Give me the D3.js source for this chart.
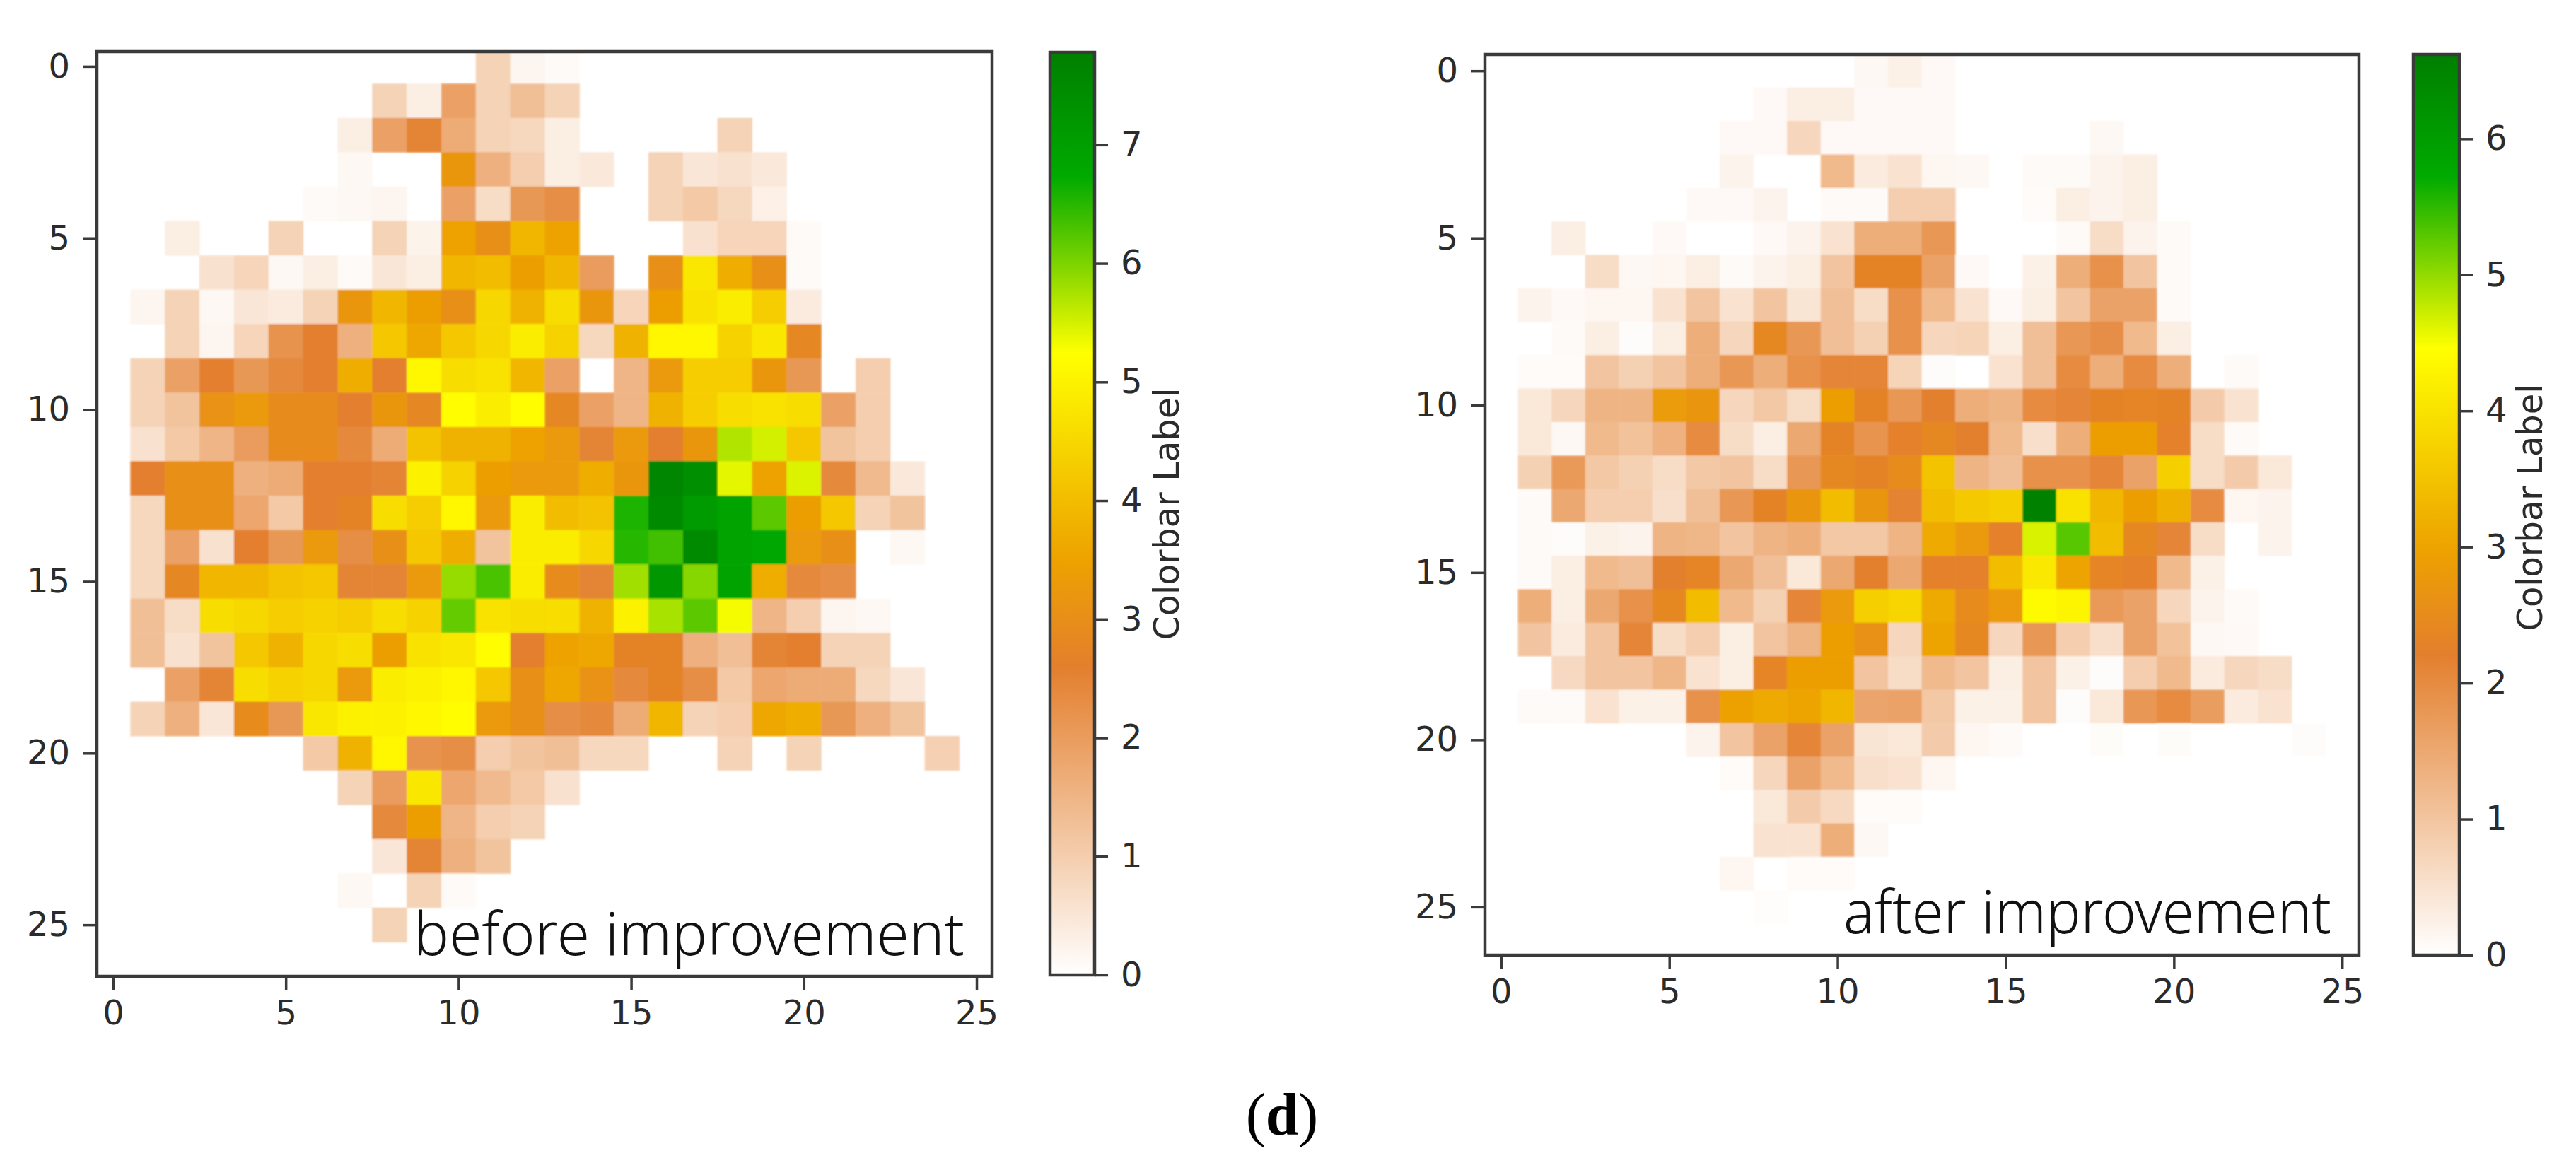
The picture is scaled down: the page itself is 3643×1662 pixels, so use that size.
<!DOCTYPE html>
<html>
<head>
<meta charset="utf-8">
<script src="https://cdn.jsdelivr.net/npm/d3@7"></script>
<style>
  html, body { margin: 0; padding: 0; background: #fff; }
  svg { display: block; }
  text { font-family: "DejaVu Sans", sans-serif; fill: #2b2b2b; }
</style>
</head>
<body>
<svg></svg>
<script>
const size = {w: 3643, h: 1662};
const svg = d3.select('svg').attr('width', size.w).attr('height', size.h);

const axisTicks = [0, 5, 10, 15, 20, 25];
const beforeBarTicks = [0, 1, 2, 3, 4, 5, 6, 7];
const afterBarTicks = [0, 1, 2, 3, 4, 5, 6];
const beforeMax = 7.78;
const afterMax = 6.62;

// colour stops as share of the colorbar
const cmapStops = [0, 0.334, 0.45, 0.674, 0.865, 1];
const cmapColors = ['#ffffff', '#e37f2d', '#eda200', '#ffff00', '#00aa00', '#007f00'];

// rows top to bottom, columns from 0, 0 = empty cell, missing tail = empty
const beforeGrid = [
  [0,0,0,0,0,0,0,0,0,0,0,.9,.2,.1],
  [0,0,0,0,0,0,0,0,.9,.35,1.9,.9,1.3,.9],
  [0,0,0,0,0,0,0,.35,1.9,2.5,1.7,.9,.8,.35,0,0,0,0,.9],
  [0,0,0,0,0,0,0,.15,0,0,3.2,1.6,1,.35,.45,0,.9,.5,.6,.45],
  [0,0,0,0,0,0,.1,.15,.2,0,1.9,.7,2.1,2.3,0,0,.9,1.1,.8,.3],
  [0,0,.35,0,0,.9,0,0,.9,.25,3.5,3,3.9,3.5,0,0,0,.6,.85,.85,.1],
  [0,0,0,.6,.85,.15,.35,.1,.5,.35,3.9,4,3.4,3.9,2,0,3,4.8,3.7,3,.1],
  [0,.2,.9,.15,.5,.4,.9,3.2,3.9,3.4,3,4.5,3.8,4.6,3.2,.85,3.4,4.7,4.9,4.3,.4],
  [0,0,.9,.2,.85,2.2,2.6,1.6,4.2,3.6,4.2,4.5,4.9,4.4,.8,3.8,5.1,5.1,4.4,4.8,2.8],
  [0,.9,1.9,2.6,2.1,2.4,2.6,3.7,2.6,5.1,4.6,4.7,3.9,1.9,0,1.5,3.3,4.3,4.3,3.2,2.1,0,1],
  [0,.9,1.2,3.1,3.3,2.9,2.9,2.6,3.2,2.8,5.2,4.9,5.2,2.8,1.9,1.5,3.8,4.3,4.6,4.7,4.6,1.9,1],
  [0,.6,1.1,1.5,2,2.9,2.9,2.4,1.7,4.1,3.8,3.8,3.5,3.3,2.5,3.3,2.6,3.2,5.7,5.5,4.2,1.2,1],
  [0,2.6,3,3,1.6,1.7,2.6,2.6,2.5,5,4.4,3.4,3.3,3.3,3.7,3.2,7.6,7.4,5.4,3.5,5.45,2.4,1.4,.45],
  [0,.8,3,3,1.8,1.1,2.6,2.7,4.6,4.3,5.1,3.3,4.9,4,4.1,6.55,7.5,7.1,6.9,6.2,3.4,4.2,.9,1.2],
  [0,.8,1.9,.6,2.6,2.1,3.3,2.3,3,4.2,3.7,1.2,4.9,4.9,4.5,6.5,6.35,7.5,6.9,6.8,3.3,3,0,.15],
  [0,.8,2.8,3.9,3.9,4.1,4.2,2.5,2.5,3.3,5.85,6.3,4.9,2.9,2.5,5.8,7.2,5.95,6.9,3.7,2.4,2.3],
  [0,1.3,.7,4.6,4.5,4.3,4.4,4.3,4.6,4.4,6.15,4.7,4.6,4.6,3.8,5,5.75,6.2,5.3,1.5,1,.2,.15],
  [0,1.3,.6,1.2,4.2,3.8,4.5,4.6,3.4,4.7,4.8,5.2,2.6,3.5,3.6,2.7,2.7,1.6,1.3,2.5,2.6,.9,.9],
  [0,0,1.9,2.5,4.6,4.4,4.5,3.3,4.9,5,5.1,4.2,3,3.6,3.1,2.4,2.7,2.3,1.1,1.8,1.7,1.7,.8,.5],
  [0,.9,1.6,.5,2.9,2.1,4.8,5,5,5.1,5.2,3.3,3,2.3,2.4,1.7,3.9,.9,1,3.6,3.7,2.1,1.6,1.2],
  [0,0,0,0,0,0,1.1,3.8,5.1,2.2,2.3,1,1.2,1.3,.8,.8,0,0,.9,0,.9,0,0,0,.95],
  [0,0,0,0,0,0,0,.9,2,4.8,1.8,1.4,1.1,.6],
  [0,0,0,0,0,0,0,0,2.4,3.4,1.5,1,.9],
  [0,0,0,0,0,0,0,0,.5,2.5,1.6,1.2],
  [0,0,0,0,0,0,0,.15,0,.9,.1],
  [0,0,0,0,0,0,0,0,.9]
];

const afterGrid = [
  [0,0,0,0,0,0,0,0,0,0,0,.12,.25,.1],
  [0,0,0,0,0,0,0,0,.1,.3,.3,.1,.1,.1],
  [0,0,0,0,0,0,0,.1,.1,.7,.1,.1,.1,.1,0,0,0,0,.12],
  [0,0,0,0,0,0,0,.2,0,0,1.2,.35,.5,.15,.12,0,.08,.08,.2,.3],
  [0,0,0,0,0,0,.1,.1,.2,0,.08,.08,.85,.85,0,0,.07,.3,.2,.3],
  [0,0,.3,0,0,.1,0,0,.1,.2,.5,1.4,1.4,1.8,0,0,0,.08,.6,.2,.08],
  [0,0,0,.6,.12,.15,.3,.08,.2,.3,1,2.3,2.3,1.6,.1,0,.25,1.4,1.9,1,.08],
  [0,.2,.1,.15,.15,.5,1,.5,1,.45,1.1,.6,1.9,1.2,.5,.1,.3,1,1.6,1.6,.08],
  [0,0,.08,.3,.05,.3,1.4,.7,2.4,1.8,1.1,.8,1.9,.7,.75,.3,1.1,1.8,1.95,1.2,.3],
  [0,.07,.07,1,.8,1,1.4,1.8,1.4,1.9,2.1,2.1,.75,.05,0,.5,1.1,2,1.4,2,1.4,0,.08],
  [0,.4,.7,1.3,1.3,2.85,2.7,.7,.95,.6,2.9,2.3,1.8,2.2,1.4,1.3,2,2.1,2.3,2.35,2.3,.9,.5],
  [0,.4,.12,1.2,1.05,1.35,2,.6,.3,1.5,2.3,1.85,2.25,2.4,2.2,1.2,.55,1.4,2.9,2.9,2.25,.6,.08],
  [0,.8,1.75,.95,.8,.6,.95,1,.6,1.8,2.4,2.3,2.5,3.5,1.3,1.1,1.9,1.9,2.1,1.6,3.7,.6,.9,.4],
  [0,.08,1.5,.85,.85,.55,1.1,1.8,2.3,2.7,3.4,2.7,2.15,3.4,3.6,3.7,6.55,4,3.3,2.9,3.2,2,.15,.2],
  [0,.08,.05,.25,.2,1.3,1.25,1,1.3,1.4,.95,.95,1.3,3.1,2.8,2.25,4.65,5.3,3.4,2.4,2.1,.6,0,.2],
  [0,.08,.3,1.2,1.1,2.2,2.35,1.5,1.1,.4,1.5,2.2,1.5,2.25,2.25,3.4,4.1,3,2.35,2.25,1.2,.25],
  [0,1.4,.3,1.5,1.9,2.4,3.4,1.2,.8,2.1,2.8,3.7,3.8,3.1,2.5,2.8,4.4,4.3,1.75,1.6,.7,.2,.08],
  [0,1,.35,1,2.1,.6,.85,.3,1,1.3,2.9,2.6,.7,3,2.4,.7,1.8,.85,.55,1.6,1.05,.12,.1],
  [0,0,.65,1,1,1.25,.5,.3,2.35,2.9,2.9,1,.6,1.2,1,.3,1,.25,.05,.85,1.2,.35,.7,.6],
  [0,.08,.08,.5,.25,.25,1.9,2.95,3.1,3,3.3,1.55,1.6,.95,.25,.25,1,.05,.4,1.8,2,1.7,.35,.5],
  [0,0,0,0,0,0,.2,1,1.6,2.1,1.6,.45,.4,.9,.15,.08,0,0,.06,0,.06,0,0,0,.05],
  [0,0,0,0,0,0,0,.07,.7,1.6,1.2,.55,.5,.15],
  [0,0,0,0,0,0,0,0,.4,.9,.65,.07,.07],
  [0,0,0,0,0,0,0,0,.5,.5,1.4,.12],
  [0,0,0,0,0,0,0,.15,0,.07,.07],
  [0,0,0,0,0,0,0,0,.04]
];

const defs = svg.append('defs');
defs.append('filter').attr('id', 'soft')
    .append('feGaussianBlur').attr('stdDeviation', 1.2);

function colorFor (vmax) {
    return d3.scaleLinear()
        .domain(cmapStops.map(s => s * vmax))
        .range(cmapColors)
        .interpolate(d3.interpolateRgb)
        .clamp(true);
}

function styleAxis (axisG) {
    axisG.select('.domain').remove();
    axisG.selectAll('.tick line').attr('stroke', '#3a3a3a').attr('stroke-width', 3.5);
    axisG.selectAll('.tick text').attr('font-size', 48).style('fill', '#2b2b2b');
}

// one heatmap with its frame, axes and note
function drawHeatmap (id, grid, vmax, box, note) {
    let g = svg.append('g').classed(id, true);
    let color = colorFor(vmax);

    let x = d3.scaleLinear().domain(box.xd).range([box.l, box.r]);
    let y = d3.scaleLinear().domain(box.yd).range([box.t, box.b]);

    defs.append('clipPath').attr('id', id + '-clip')
        .append('rect')
        .attr('x', box.l).attr('y', box.t)
        .attr('width', box.r - box.l).attr('height', box.b - box.t);

    let cells = [];
    grid.forEach((row, r) => row.forEach((v, c) => {
        if (v > 0) cells.push({r: r, c: c, v: v});
    }));

    g.append('g')
        .attr('clip-path', 'url(#' + id + '-clip)')
        .append('g')
        .attr('filter', 'url(#soft)')
        .selectAll('rect')
        .data(cells)
        .enter()
        .append('rect')
        .attr('x', d => x(d.c - 0.5))
        .attr('y', d => y(d.r - 0.5))
        .attr('width', x(1) - x(0) + 0.5)
        .attr('height', y(1) - y(0) + 0.5)
        .attr('fill', d => color(d.v));

    g.append('rect')
        .attr('x', box.l).attr('y', box.t)
        .attr('width', box.r - box.l).attr('height', box.b - box.t)
        .attr('fill', 'none')
        .attr('stroke', '#3a3a3a')
        .attr('stroke-width', 4.5);

    let xAxis = g.append('g')
        .attr('transform', 'translate(0,' + box.b + ')')
        .call(d3.axisBottom(x).tickValues(axisTicks).tickSize(20).tickPadding(14));
    styleAxis(xAxis);

    let yAxis = g.append('g')
        .attr('transform', 'translate(' + box.l + ',0)')
        .call(d3.axisLeft(y).tickValues(axisTicks).tickSize(20).tickPadding(18));
    styleAxis(yAxis);

    g.append('text')
        .attr('x', note.x).attr('y', note.y)
        .attr('textLength', note.w)
        .attr('lengthAdjust', 'spacingAndGlyphs')
        .style('font-family', '"Noto Sans", sans-serif')
        .style('font-weight', 300)
        .style('fill', '#111')
        .attr('font-size', 84)
        .text(note.text);
}

function drawColorbar (id, vmax, ticks, box, labelBox) {
    let g = svg.append('g').classed(id, true);
    let color = colorFor(vmax);
    let y = d3.scaleLinear().domain([0, vmax]).range([box.b, box.t]);

    let grad = defs.append('linearGradient').attr('id', id + '-grad')
        .attr('x1', 0).attr('x2', 0).attr('y1', 1).attr('y2', 0);
    grad.selectAll('stop')
        .data(cmapStops)
        .enter()
        .append('stop')
        .attr('offset', d => d)
        .attr('stop-color', d => color(d * vmax));

    g.append('rect')
        .attr('x', box.l).attr('y', box.t)
        .attr('width', box.r - box.l).attr('height', box.b - box.t)
        .attr('fill', 'url(#' + id + '-grad)')
        .attr('stroke', '#3a3a3a')
        .attr('stroke-width', 4.5);

    let axis = g.append('g')
        .attr('transform', 'translate(' + box.r + ',0)')
        .call(d3.axisRight(y).tickValues(ticks).tickFormat(d3.format('d')).tickSize(19).tickPadding(18));
    styleAxis(axis);

    g.append('text')
        .attr('transform', 'translate(' + labelBox.x + ',' + labelBox.y + ') rotate(-90)')
        .attr('text-anchor', 'middle')
        .attr('font-size', 50)
        .attr('textLength', labelBox.w)
        .attr('lengthAdjust', 'spacingAndGlyphs')
        .text('Colorbar Label');
}

drawHeatmap('before', beforeGrid, beforeMax,
    {l: 137, r: 1403, t: 73, b: 1381, xd: [-0.47, 25.45], yd: [-0.43, 26.5]},
    {x: 585, y: 1351, w: 779, text: 'before improvement'});
drawHeatmap('after', afterGrid, afterMax,
    {l: 2100, r: 3336, t: 77, b: 1351, xd: [-0.48, 25.5], yd: [-0.49, 26.44]},
    {x: 2607, y: 1320, w: 690, text: 'after improvement'});

drawColorbar('before-bar', beforeMax, beforeBarTicks,
    {l: 1485, r: 1548, t: 74, b: 1379}, {x: 1667, y: 727, w: 357});
drawColorbar('after-bar', afterMax, afterBarTicks,
    {l: 3413, r: 3478, t: 77, b: 1351}, {x: 3595, y: 718, w: 349});

// caption
let caption = svg.append('text')
    .attr('x', 1813).attr('y', 1605)
    .attr('text-anchor', 'middle')
    .style('font-family', '"Liberation Serif", serif')
    .style('fill', '#000')
    .attr('font-size', 84);
caption.append('tspan').text('(');
caption.append('tspan').style('font-weight', 700).text('d');
caption.append('tspan').text(')');
</script>
</body>
</html>
